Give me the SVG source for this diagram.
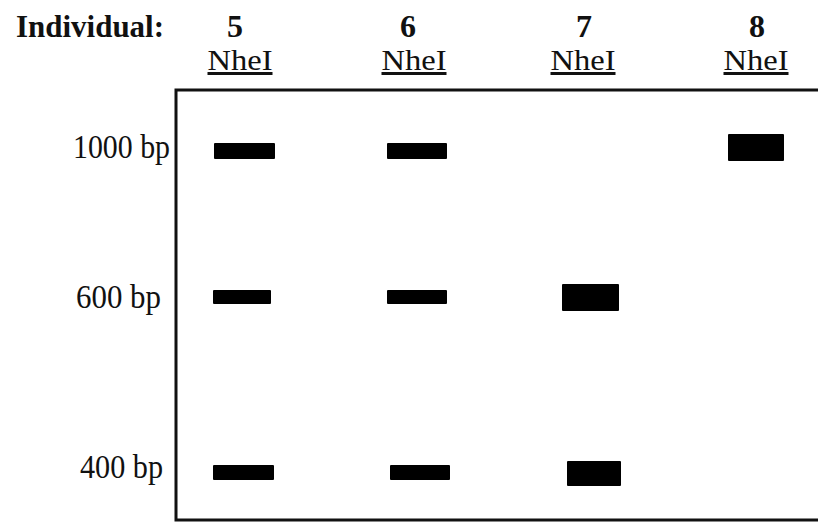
<svg xmlns="http://www.w3.org/2000/svg" width="818" height="522" viewBox="0 0 818 522">
<style>
text{font-family:"Liberation Serif","Times New Roman",serif;fill:#111}
.hd{font-size:32px;font-weight:bold}
.enz{font-size:30px;text-decoration:underline;text-anchor:middle}
.num{font-size:32px;font-weight:bold;text-anchor:middle}
.lbl{font-size:33px;text-anchor:end}
.band{fill:#000}
</style>
<rect width="818" height="522" fill="#fff"/>
<g id="header">
<text class="hd" x="16" y="37" textLength="148" lengthAdjust="spacingAndGlyphs">Individual:</text>
<text class="num" x="235" y="37">5</text>
<text class="num" x="408" y="37">6</text>
<text class="num" x="584" y="37">7</text>
<text class="num" x="757" y="37">8</text>
<text class="enz" x="240" y="70" textLength="65" lengthAdjust="spacingAndGlyphs">NheI</text>
<text class="enz" x="414" y="70" textLength="65" lengthAdjust="spacingAndGlyphs">NheI</text>
<text class="enz" x="583" y="70" textLength="65" lengthAdjust="spacingAndGlyphs">NheI</text>
<text class="enz" x="756" y="70" textLength="65" lengthAdjust="spacingAndGlyphs">NheI</text>
</g>
<g id="gel">
<path d="M830 90 H176 V520 H830" fill="none" stroke="#111" stroke-width="3"/>
</g>
<g id="markers">
<text class="lbl" x="170" y="158" textLength="97" lengthAdjust="spacingAndGlyphs">1000 bp</text>
<text class="lbl" x="161" y="308" textLength="85" lengthAdjust="spacingAndGlyphs">600 bp</text>
<text class="lbl" x="163" y="478" textLength="83" lengthAdjust="spacingAndGlyphs">400 bp</text>
</g>
<g id="bands">
<rect class="band" x="214" y="143" width="61" height="16" rx="1"/>
<rect class="band" x="387" y="143" width="60" height="16" rx="1"/>
<rect class="band" x="728" y="134" width="56" height="27" rx="1"/>
<rect class="band" x="213" y="290" width="58" height="14" rx="1"/>
<rect class="band" x="387" y="290" width="60" height="14" rx="1"/>
<rect class="band" x="562" y="284" width="57" height="27" rx="1"/>
<rect class="band" x="213" y="465" width="61" height="15" rx="1"/>
<rect class="band" x="390" y="465" width="60" height="15" rx="1"/>
<rect class="band" x="567" y="461" width="54" height="25" rx="1"/>
</g>
</svg>
